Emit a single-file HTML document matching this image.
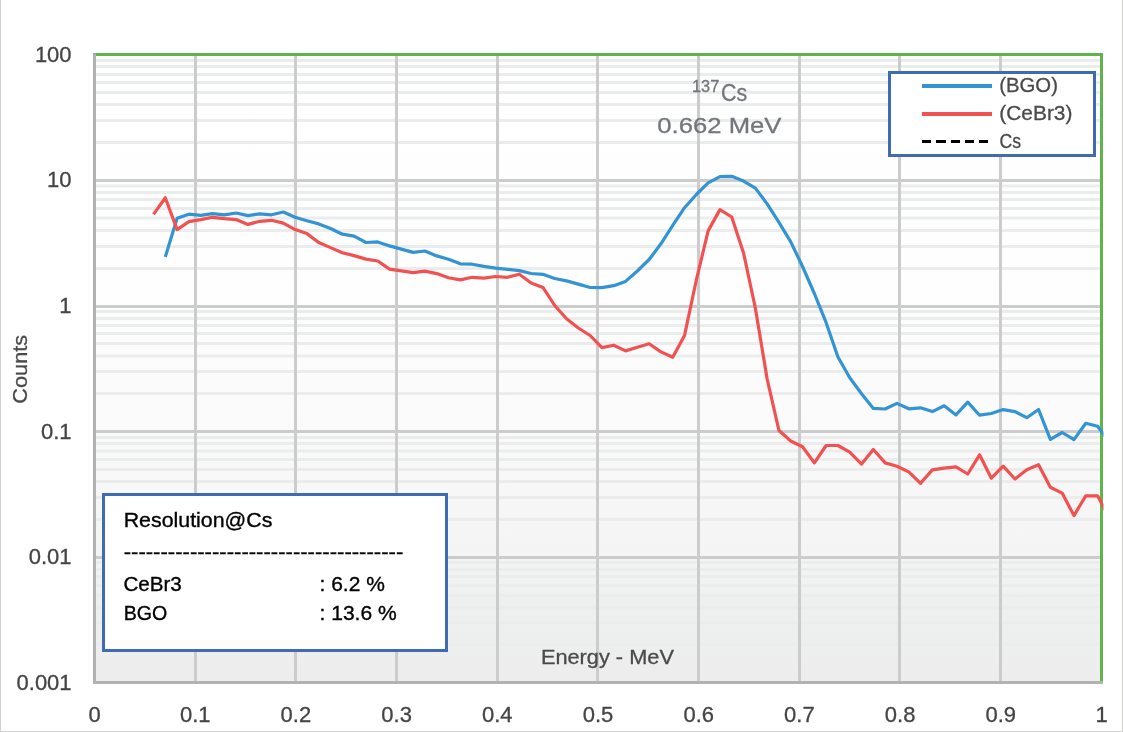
<!DOCTYPE html>
<html lang="en">
<head>
<meta charset="utf-8">
<title>Cs-137 spectrum: BGO vs CeBr3</title>
<style>
html,body{margin:0;padding:0;background:#fff;}
body{width:1123px;height:732px;overflow:hidden;}
svg{display:block;}
text{font-family:"Liberation Sans",sans-serif;}
</style>
</head>
<body>
<svg width="1123" height="732" viewBox="0 0 1123 732">
<defs>
<linearGradient id="pg" x1="0" y1="0" x2="0" y2="1">
<stop offset="0" stop-color="#ffffff"/>
<stop offset="0.35" stop-color="#fefefe"/>
<stop offset="0.6" stop-color="#fafafa"/>
<stop offset="0.8" stop-color="#f4f4f4"/>
<stop offset="0.88" stop-color="#eeefef"/>
<stop offset="1" stop-color="#ecedec"/>
</linearGradient>
<clipPath id="pc"><rect x="93" y="53" width="1010.5" height="631"/></clipPath>
</defs>
<rect x="0" y="0" width="1123" height="732" fill="#ffffff"/>
<rect x="0" y="0" width="1" height="732" fill="#cfd0cf"/>
<rect x="1122" y="0" width="1" height="732" fill="#d2d2d0"/>
<rect x="0" y="731" width="1123" height="1" fill="#d0d0cf"/>
<rect x="94.5" y="54.5" width="1007.0" height="628.0" fill="url(#pg)"/>
<g stroke="#ebeded" stroke-width="3">
<line x1="96" y1="142.5" x2="1100" y2="142.5"/>
<line x1="96" y1="120.5" x2="1100" y2="120.5"/>
<line x1="96" y1="104.5" x2="1100" y2="104.5"/>
<line x1="96" y1="92.5" x2="1100" y2="92.5"/>
<line x1="96" y1="82.5" x2="1100" y2="82.5"/>
<line x1="96" y1="74.5" x2="1100" y2="74.5"/>
<line x1="96" y1="66.5" x2="1100" y2="66.5"/>
<line x1="96" y1="60.5" x2="1100" y2="60.5"/>
<line x1="96" y1="268.5" x2="1100" y2="268.5"/>
<line x1="96" y1="246.5" x2="1100" y2="246.5"/>
<line x1="96" y1="230.5" x2="1100" y2="230.5"/>
<line x1="96" y1="218.0" x2="1100" y2="218.0"/>
<line x1="96" y1="208.5" x2="1100" y2="208.5"/>
<line x1="96" y1="199.5" x2="1100" y2="199.5"/>
<line x1="96" y1="192.5" x2="1100" y2="192.5"/>
<line x1="96" y1="186.0" x2="1100" y2="186.0"/>
<line x1="96" y1="393.5" x2="1100" y2="393.5"/>
<line x1="96" y1="371.5" x2="1100" y2="371.5"/>
<line x1="96" y1="356.0" x2="1100" y2="356.0"/>
<line x1="96" y1="343.5" x2="1100" y2="343.5"/>
<line x1="96" y1="333.5" x2="1100" y2="333.5"/>
<line x1="96" y1="325.5" x2="1100" y2="325.5"/>
<line x1="96" y1="318.5" x2="1100" y2="318.5"/>
<line x1="96" y1="311.5" x2="1100" y2="311.5"/>
<line x1="96" y1="519.5" x2="1100" y2="519.5"/>
<line x1="96" y1="497.5" x2="1100" y2="497.5"/>
<line x1="96" y1="481.5" x2="1100" y2="481.5"/>
<line x1="96" y1="469.5" x2="1100" y2="469.5"/>
<line x1="96" y1="459.5" x2="1100" y2="459.5"/>
<line x1="96" y1="451.0" x2="1100" y2="451.0"/>
<line x1="96" y1="443.5" x2="1100" y2="443.5"/>
<line x1="96" y1="437.5" x2="1100" y2="437.5"/>
<line x1="96" y1="644.5" x2="1100" y2="644.5"/>
<line x1="96" y1="622.5" x2="1100" y2="622.5"/>
<line x1="96" y1="607.5" x2="1100" y2="607.5"/>
<line x1="96" y1="595.5" x2="1100" y2="595.5"/>
<line x1="96" y1="585.5" x2="1100" y2="585.5"/>
<line x1="96" y1="576.5" x2="1100" y2="576.5"/>
<line x1="96" y1="569.5" x2="1100" y2="569.5"/>
<line x1="96" y1="562.5" x2="1100" y2="562.5"/>
</g>
<g stroke="#cccccc" stroke-width="3">
<line x1="96" y1="180.5" x2="1100" y2="180.5"/>
<line x1="96" y1="306.5" x2="1100" y2="306.5"/>
<line x1="96" y1="431.5" x2="1100" y2="431.5"/>
<line x1="96" y1="557.5" x2="1100" y2="557.5"/>
<line x1="195.5" y1="56" x2="195.5" y2="681"/>
<line x1="295.5" y1="56" x2="295.5" y2="681"/>
<line x1="396.5" y1="56" x2="396.5" y2="681"/>
<line x1="497.5" y1="56" x2="497.5" y2="681"/>
<line x1="597.5" y1="56" x2="597.5" y2="681"/>
<line x1="698.5" y1="56" x2="698.5" y2="681"/>
<line x1="799.5" y1="56" x2="799.5" y2="681"/>
<line x1="899.5" y1="56" x2="899.5" y2="681"/>
<line x1="1000.5" y1="56" x2="1000.5" y2="681"/>
</g>
<path d="M93 54.5 H1101.5 V682.5" fill="none" stroke="#5fb548" stroke-width="3"/>
<path d="M94.5 53.6 V682.5 H1103" fill="none" stroke="#b1b2b2" stroke-width="3" stroke-linejoin="miter"/>
<g fill="#73767c" stroke="#73767c" stroke-width="0.3">
<text x="721.10" y="100.6" font-size="24" textLength="26.19" lengthAdjust="spacingAndGlyphs">Cs</text>
<text x="691.90" y="92.0" font-size="16.6" textLength="27.42" lengthAdjust="spacingAndGlyphs">137</text>
<text x="657.30" y="133.2" font-size="22.4" textLength="124.18" lengthAdjust="spacingAndGlyphs">0.662 MeV</text>
</g>
<g fill="#4a4a4a" stroke="#4a4a4a" stroke-width="0.3">
<text x="540.90" y="663.5" font-size="21" textLength="133.02" lengthAdjust="spacingAndGlyphs">Energy - MeV</text>
</g>
<g clip-path="url(#pc)" fill="none" stroke-width="3.2" stroke-linejoin="round" stroke-linecap="butt">
<polyline stroke="#3394d4" points="165.30,256.90 177.11,218.20 188.91,214.20 200.71,215.30 212.51,213.60 224.31,214.80 236.11,213.00 247.91,215.60 259.71,213.90 271.51,214.80 283.31,212.00 295.11,217.20 306.91,220.70 318.71,223.90 330.52,228.50 342.32,234.20 354.12,236.20 365.92,242.50 377.72,241.90 389.52,245.90 401.32,249.10 413.12,252.40 424.92,251.00 436.72,255.90 448.52,259.20 460.32,263.80 472.12,264.20 483.93,266.40 495.73,268.20 507.53,269.30 519.33,270.60 531.13,273.50 542.93,274.30 554.73,278.50 566.53,280.90 578.33,284.10 590.13,287.50 601.93,287.70 613.73,285.70 625.54,281.40 637.34,271.00 649.14,259.50 660.94,243.80 672.74,225.30 684.54,207.70 696.34,194.50 708.14,182.80 719.94,176.60 731.74,176.30 743.54,181.10 755.34,188.10 767.14,203.90 778.95,222.40 790.75,241.90 802.55,266.50 814.35,293.50 826.15,322.70 837.95,357.00 849.75,377.80 861.55,393.70 873.35,408.40 885.15,409.00 896.95,403.40 908.75,408.80 920.55,407.80 932.36,411.60 944.16,405.80 955.96,414.90 967.76,402.10 979.56,415.20 991.36,413.50 1003.16,409.60 1014.96,411.60 1026.76,417.70 1038.56,409.50 1050.36,439.40 1062.16,432.50 1073.96,439.60 1085.77,423.30 1097.57,426.20 1109.37,441.80"/>
<polyline stroke="#f15150" points="153.50,214.40 165.30,197.80 177.11,229.60 188.91,221.60 200.71,219.60 212.51,217.30 224.31,218.70 236.11,219.60 247.91,224.40 259.71,221.30 271.51,220.30 283.31,223.10 295.11,229.60 306.91,233.60 318.71,242.50 330.52,247.60 342.32,252.70 354.12,255.60 365.92,259.10 377.72,261.00 389.52,269.10 401.32,270.90 413.12,272.60 424.92,271.10 436.72,273.60 448.52,277.70 460.32,279.90 472.12,277.30 483.93,278.20 495.73,276.50 507.53,277.30 519.33,274.20 531.13,283.00 542.93,287.40 554.73,305.50 566.53,318.80 578.33,328.00 590.13,335.50 601.93,347.60 613.73,345.20 625.54,350.90 637.34,347.20 649.14,343.80 660.94,351.90 672.74,357.20 684.54,335.50 696.34,280.00 708.14,230.90 719.94,209.60 731.74,217.00 743.54,252.90 755.34,308.00 767.14,379.00 778.95,430.50 790.75,441.00 802.55,446.80 814.35,462.90 826.15,445.50 837.95,445.50 849.75,452.20 861.55,464.10 873.35,449.50 885.15,462.90 896.95,466.20 908.75,471.90 920.55,483.30 932.36,469.90 944.16,468.20 955.96,466.90 967.76,474.00 979.56,454.80 991.36,478.20 1003.16,466.10 1014.96,479.00 1026.76,469.70 1038.56,464.70 1050.36,487.20 1062.16,493.10 1073.96,515.60 1085.77,495.80 1097.57,495.80 1109.37,518.00"/>
</g>
<rect x="889.5" y="72.5" width="205" height="83" fill="#ffffff" stroke="#3f6bb5" stroke-width="3"/>
<line x1="922" y1="86" x2="992" y2="86" stroke="#3394d4" stroke-width="4"/>
<line x1="922" y1="114" x2="992" y2="114" stroke="#f15150" stroke-width="4"/>
<path d="M922 141.5h9M936 141.5h10M951 141.5h9M965 141.5h9M979 141.5h9" fill="none" stroke="#000000" stroke-width="3"/>
<g fill="#4a4a4a" stroke="#4a4a4a" stroke-width="0.3">
<text x="999.30" y="92.4" font-size="20.6" textLength="58.62" lengthAdjust="spacingAndGlyphs">(BGO)</text>
<text x="999.30" y="120.3" font-size="20.6" textLength="73.11" lengthAdjust="spacingAndGlyphs">(CeBr3)</text>
<text x="999.50" y="148.4" font-size="20.6" textLength="21.59" lengthAdjust="spacingAndGlyphs">Cs</text>
</g>
<rect x="103.5" y="494.5" width="343" height="156" fill="#ffffff" stroke="#3f6bb5" stroke-width="3"/>
<g fill="#000000" stroke="#000000" stroke-width="0.35">
<text x="123.70" y="526.8" font-size="21" textLength="148.70" lengthAdjust="spacingAndGlyphs">Resolution@Cs</text>
<text x="123.70" y="558.9" font-size="21" textLength="279.58" lengthAdjust="spacingAndGlyphs">--------------------------------------</text>
<text x="123.40" y="590.6" font-size="21" textLength="58.39" lengthAdjust="spacingAndGlyphs">CeBr3</text>
<text x="319.50" y="590.6" font-size="21" textLength="65.31" lengthAdjust="spacingAndGlyphs">: 6.2 %</text>
<text x="123.70" y="619.8" font-size="21" textLength="43.60" lengthAdjust="spacingAndGlyphs">BGO</text>
<text x="319.50" y="619.8" font-size="21" textLength="77.18" lengthAdjust="spacingAndGlyphs">: 13.6 %</text>
</g>
<g fill="#444444" stroke="#444444" stroke-width="0.3" font-size="22" text-anchor="end">
<text x="71.6" y="62">100</text>
<text x="71.6" y="187">10</text>
<text x="71.6" y="313">1</text>
<text x="71.6" y="439">0.1</text>
<text x="71.6" y="564">0.01</text>
<text x="71.6" y="690">0.001</text>
</g>
<g fill="#444444" stroke="#444444" stroke-width="0.3" font-size="22" text-anchor="middle">
<text x="94.5" y="722">0</text>
<text x="195.2" y="722">0.1</text>
<text x="295.9" y="722">0.2</text>
<text x="396.6" y="722">0.3</text>
<text x="497.3" y="722">0.4</text>
<text x="598.0" y="722">0.5</text>
<text x="698.7" y="722">0.6</text>
<text x="799.4" y="722">0.7</text>
<text x="900.1" y="722">0.8</text>
<text x="1000.8" y="722">0.9</text>
<text x="1101.5" y="722">1</text>
</g>
<g transform="translate(27.2 403.2) rotate(-90)" fill="#4a4a4a" stroke="#4a4a4a" stroke-width="0.3">
<text x="-0.50" y="0" font-size="21" textLength="68.82" lengthAdjust="spacingAndGlyphs">Counts</text>
</g>
</svg>
</body>
</html>
